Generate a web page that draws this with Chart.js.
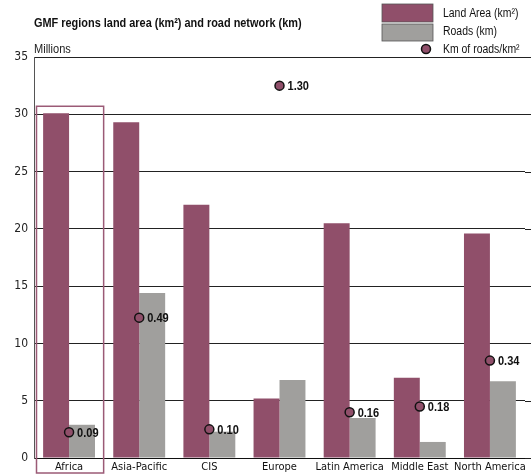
<!DOCTYPE html>
<html>
<head>
<meta charset="utf-8">
<script src="https://cdn.jsdelivr.net/npm/chart.js@4"></script>
<style>
  html, body { margin: 0; padding: 0; background: #fff; }
  #wrap { position: relative; width: 531px; height: 475px; }
</style>
</head>
<body>
<div id="wrap"><canvas id="gmf-chart" width="531" height="475"></canvas></div>
<script>
var categories = ["Africa", "Asia-Pacific", "CIS", "Europe", "Latin America", "Middle East", "North America"];
var landArea = [30.1, 29.3, 22.1, 5.2, 20.5, 7.0, 19.6];
var roads = [2.9, 14.4, 2.3, 6.8, 3.5, 1.4, 6.7];
var roadDensity = [0.09, 0.49, 0.10, 1.30, 0.16, 0.18, 0.34];
var yTicks = [0, 5, 10, 15, 20, 25, 30, 35];

var PURPLE = "#904f6a";
var GREY = "#a09f9d";
var NARROW = '"DejaVu Sans Condensed", "Liberation Sans", Arial, sans-serif';
var SANS = '"Liberation Sans", Arial, sans-serif';

// helvetica-condensed look: squeeze the text horizontally
function narrowText(ctx, text, x, y, font, sx) {
  ctx.save();
  ctx.font = font;
  ctx.translate(x, y);
  ctx.scale(sx, 1);
  ctx.fillText(text, 0, 0);
  ctx.restore();
}

var decor = {
  id: "decor",
  beforeDatasetsDraw: function (chart) {
    // gridlines run on to the right edge
    var ctx = chart.ctx, y = chart.scales.y, a = chart.chartArea;
    ctx.save();
    ctx.strokeStyle = "#222";
    ctx.lineWidth = 1;
    yTicks.forEach(function (v) {
      var py = Math.round(y.getPixelForValue(v)) + 0.5;
      ctx.beginPath();
      ctx.moveTo(a.right, py);
      ctx.lineTo(chart.width, py);
      ctx.stroke();
    });
    ctx.restore();
  },
  afterDatasetsDraw: function (chart) {
    var ctx = chart.ctx;
    var x = chart.scales.x, y = chart.scales.y;
    ctx.save();

    // frame around Africa
    var w = x.getPixelForValue(1) - x.getPixelForValue(0);
    var cx = x.getPixelForValue(0);
    var top = y.getPixelForValue(30.7);
    ctx.strokeStyle = "#9b5a76";
    ctx.lineWidth = 1.5;
    ctx.strokeRect(cx - w / 2 + 2.5, top, w - 3, chart.height - 2 - top);

    // point labels
    var meta = chart.getDatasetMeta(2);
    ctx.fillStyle = "#111";
    ctx.textBaseline = "middle";
    ctx.textAlign = "left";
    meta.data.forEach(function (pt, i) {
      narrowText(ctx, roadDensity[i].toFixed(2), pt.x + 8, pt.y + 1, "bold 13px " + SANS, 0.85);
    });

    ctx.textBaseline = "alphabetic";
    // title
    narrowText(ctx, "GMF regions land area (km\u00b2) and road network (km)", 34, 27, "bold 12px " + SANS, 0.91);

    // unit
    ctx.fillStyle = "#222";
    narrowText(ctx, "Millions", 34, 53, "12px " + SANS, 0.92);

    // legend
    ctx.fillStyle = PURPLE;
    ctx.fillRect(382, 4, 51, 18);
    ctx.strokeStyle = "#555";
    ctx.lineWidth = 0.8;
    ctx.strokeRect(382, 4, 51, 18);
    ctx.fillStyle = GREY;
    ctx.fillRect(382, 24, 51, 17);
    ctx.strokeRect(382, 24, 51, 17);
    ctx.beginPath();
    ctx.arc(426, 49, 4.5, 0, Math.PI * 2);
    ctx.fillStyle = PURPLE;
    ctx.fill();
    ctx.lineWidth = 1.5;
    ctx.strokeStyle = "#111";
    ctx.stroke();
    ctx.fillStyle = "#111";
    narrowText(ctx, "Land Area (km\u00b2)", 443, 17, "12px " + SANS, 0.87);
    narrowText(ctx, "Roads (km)", 443, 35, "12px " + SANS, 0.87);
    narrowText(ctx, "Km of roads/km\u00b2", 443, 53, "12px " + SANS, 0.87);

    ctx.restore();
  }
};

new Chart(document.getElementById("gmf-chart"), {
  type: "bar",
  data: {
    labels: categories,
    datasets: [
      {
        label: "Land Area (km\u00b2)",
        data: landArea,
        backgroundColor: PURPLE,
        categoryPercentage: 0.74,
        barPercentage: 1,
        order: 2
      },
      {
        label: "Roads (km)",
        data: roads,
        backgroundColor: GREY,
        categoryPercentage: 0.74,
        barPercentage: 1,
        order: 2
      },
      {
        type: "line",
        label: "Km of roads/km\u00b2",
        data: roadDensity,
        yAxisID: "y2",
        showLine: false,
        pointRadius: 4.5,
        pointBackgroundColor: PURPLE,
        pointBorderColor: "#111",
        pointBorderWidth: 1.5,
        order: 1
      }
    ]
  },
  options: {
    responsive: false,
    animation: false,
    layout: { padding: { top: 57, right: 6, left: 0, bottom: 0 } },
    plugins: {
      legend: { display: false },
      title: { display: false },
      tooltip: { enabled: false }
    },
    scales: {
      x: {
        grid: { display: false, drawTicks: false },
        border: { color: "#111", width: 1 },
        ticks: { color: "#111", font: { family: NARROW, size: 11 }, padding: 3, maxRotation: 0, autoSkip: false },
        afterFit: function (s) { s.height = 17; }
      },
      y: {
        min: 0,
        max: 35,
        afterBuildTicks: function (s) { s.ticks = yTicks.map(function (v) { return { value: v }; }); },
        grid: { color: "#222", lineWidth: 1, drawTicks: false },
        border: { color: "#555", width: 1 },
        ticks: { color: "#222", font: { family: NARROW, size: 12 }, padding: 6 },
        afterFit: function (s) { s.width = 34; }
      },
      y2: {
        display: false,
        min: 0,
        max: 1.4
      }
    }
  },
  plugins: [decor]
});
</script>
</body>
</html>
